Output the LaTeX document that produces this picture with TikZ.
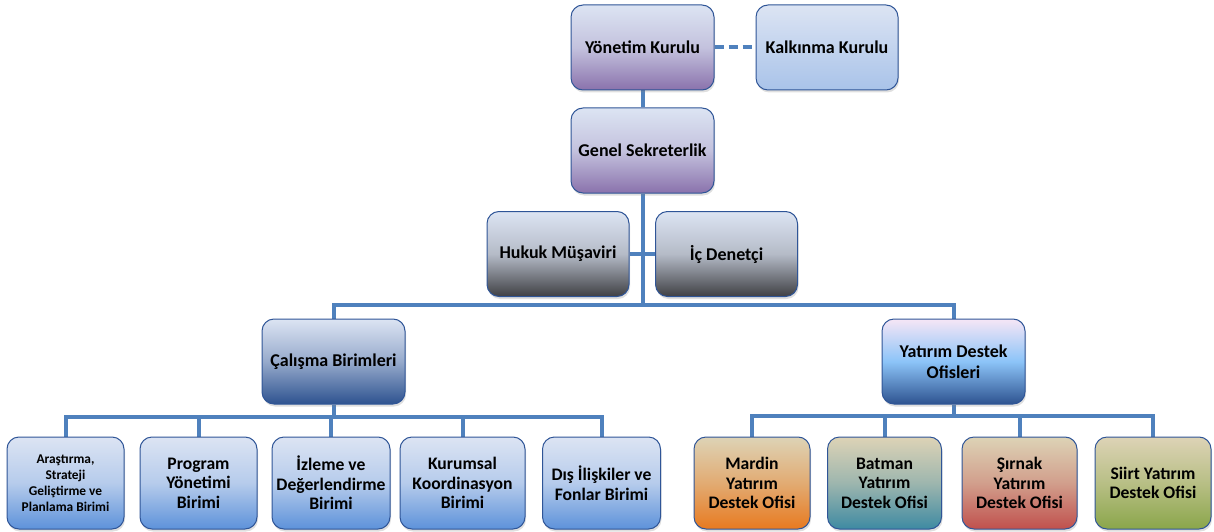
\documentclass[tikz,border=0pt]{standalone}
\usepackage{fontspec}
\setmainfont{Carlito}
\usetikzlibrary{shadows}
\pgfdeclarelayer{background}
\pgfsetlayers{background,main}
\definecolor{bordc}{HTML}{2F5597}
\definecolor{linec}{HTML}{4F81BD}
\definecolor{lt}{HTML}{DCE4F3}
\definecolor{purp}{HTML}{8A72AC}
\definecolor{kk}{HTML}{A9C3E9}
\definecolor{grey}{HTML}{3F4044}
\definecolor{dblue}{HTML}{2E5390}
\definecolor{pinkw}{HTML}{F6E6F6}
\definecolor{skyb}{HTML}{8CC4F8}
\definecolor{mblue}{HTML}{5D92DA}
\definecolor{beige}{HTML}{DDD3B6}
\definecolor{orng}{HTML}{E87A20}
\definecolor{teal}{HTML}{3E8AA2}
\definecolor{redc}{HTML}{C0504D}
\definecolor{olive}{HTML}{8AA64A}
\tikzset{
  box/.style={draw=bordc, line width=1pt, rounded corners=12pt, align=center,
    font=\bfseries\fontsize{18}{21}\selectfont, inner sep=2pt,
    drop shadow={opacity=0.25, shadow xshift=1pt, shadow yshift=-2.5pt}},
  topbox/.style={box, minimum width=143pt, minimum height=85pt, top color=lt, bottom color=purp, middle color=lt!70!purp},
  kbox/.style={box, minimum width=142pt, minimum height=85pt, top color=lt, bottom color=kk},
  gbox/.style={box, minimum width=142pt, minimum height=85pt, top color=lt, bottom color=grey, middle color=lt!75!grey},
  bbox/.style={box, minimum height=92pt, top color=lt, bottom color=mblue, middle color=lt!70!mblue, font=\bfseries\fontsize{17.6}{19.5}\selectfont},
  obox/.style={box, minimum width=116pt, minimum height=92pt, top color=beige, font=\bfseries\fontsize{17.6}{19.5}\selectfont},
  conn/.style={draw=linec, line width=4pt},
}
\begin{document}
\begin{tikzpicture}[x=1pt,y=-1pt]
\useasboundingbox (0,0) rectangle (1214,532);
\node[topbox] (yk) at (642.5,47.5) {Yönetim Kurulu};
\node[kbox] (kk) at (827,47.5) {Kalkınma  Kurulu};
\node[topbox] (gs) at (642.5,150.5) {Genel Sekreterlik};
\node[gbox] (hm) at (558,254) {Hukuk  Müşaviri};
\node[gbox] (id) at (726.5,254) {İç Denetçi};
\node[box, minimum width=143pt, minimum height=85pt, top color=lt, bottom color=dblue, middle color=lt!60!dblue] (cb) at (333.5,361.5) {Çalışma  Birimleri};
\node[box, minimum width=143pt, minimum height=85pt, top color=pinkw, bottom color=dblue, middle color=skyb] (yd) at (953.5,361.5) {Yatırım Destek\\Ofisleri};
% left bottom
\node[bbox, minimum width=117pt, font=\bfseries\fontsize{13.4}{16}\selectfont] (b1) at (65.5,483) {Araştırma,\\Strateji\\Geliştirme ve\\Planlama Birimi};
\node[bbox, minimum width=117pt] (b2) at (198.5,483) {Program\\Yönetimi\\Birimi};
\node[bbox, minimum width=118pt] (b3) at (331,483) {İzleme ve\\Değerlendirme\\Birimi};
\node[bbox, minimum width=125pt] (b4) at (462.5,483) {Kurumsal\\Koordinasyon\\Birimi};
\node[bbox, minimum width=118pt] (b5) at (601.5,483) {Dış İlişkiler  ve\\Fonlar Birimi};
% right bottom
\node[obox, bottom color=orng, middle color=beige!55!orng] (o1) at (752,483) {Mardin\\Yatırım\\Destek Ofisi};
\node[obox, minimum width=114pt, bottom color=teal, middle color=beige!60!teal] (o2) at (884.5,483) {Batman\\Yatırım\\Destek Ofisi};
\node[obox, minimum width=115pt, bottom color=redc, middle color=beige!60!redc] (o3) at (1019.5,483) {Şırnak\\Yatırım\\Destek Ofisi};
\node[obox, bottom color=olive, middle color=beige!55!olive] (o4) at (1153,483) {Siirt Yatırım\\Destek Ofisi};
\coordinate (j1) at (642.5,305);
\coordinate (j2) at (333.5,417);
\coordinate (j3) at (953.5,416);
\begin{pgfonlayer}{background}
\draw[conn] (yk.south) -- (gs.north);
\draw[conn, dash pattern=on 9pt off 5pt] (yk.east) -- (kk.west);
\draw[conn] (gs.south) -- (j1);
\draw[conn] (hm.east) -- (id.west);
\draw[conn] (cb.north) |- (j1) -| (yd.north);
\draw[conn] (cb.south) -- (j2);
\draw[conn] (b1.north) |- (j2) -| (b5.north);
\draw[conn] (b2.north) -- (b2.north |- j2);
\draw[conn] (b3.north) -- (b3.north |- j2);
\draw[conn] (b4.north) -- (b4.north |- j2);
\draw[conn] (yd.south) -- (j3);
\draw[conn] (o1.north) |- (j3) -| (o4.north);
\draw[conn] (o2.north) -- (o2.north |- j3);
\draw[conn] (o3.north) -- (o3.north |- j3);
\end{pgfonlayer}
\end{tikzpicture}
\end{document}
